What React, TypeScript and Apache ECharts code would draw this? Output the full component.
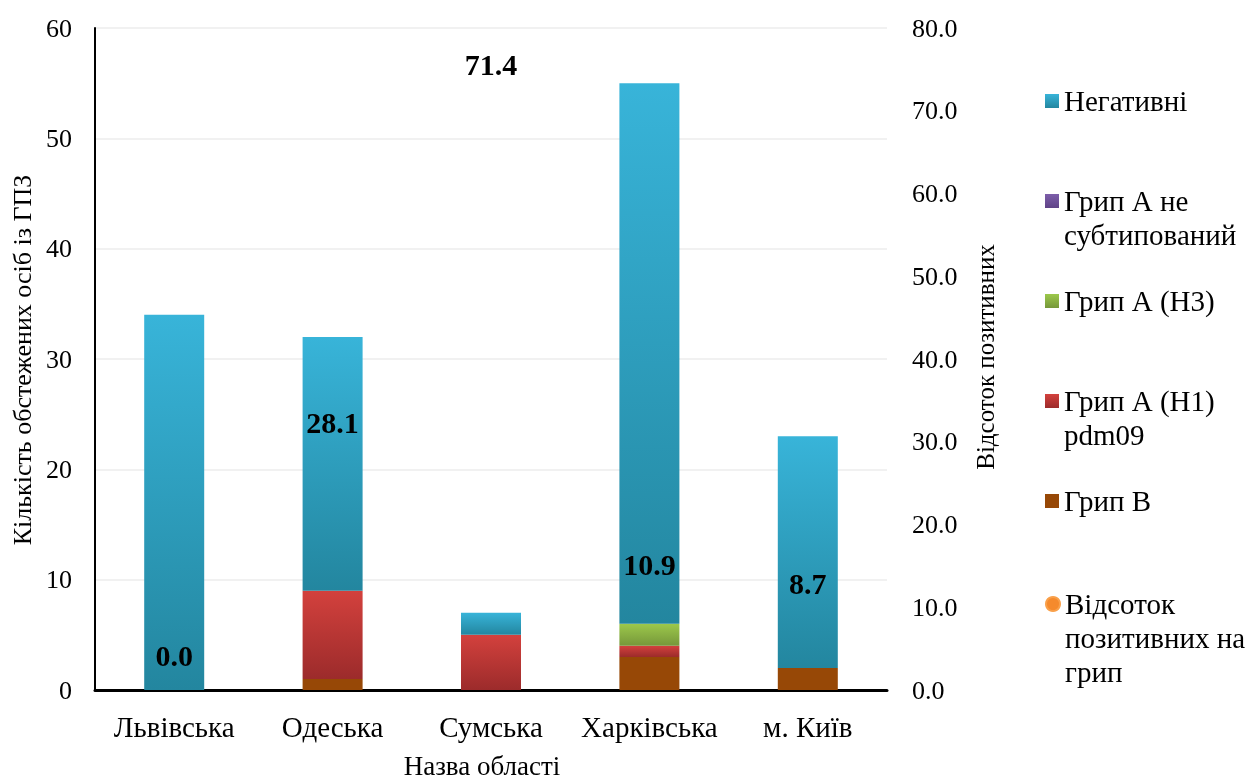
import React, { useEffect, useRef } from "react";
import * as echarts from "echarts";

const categories = ["Львівська", "Одеська", "Сумська", "Харківська", "м. Київ"];
const fluB = [0, 1, 0, 3, 2];
const fluAH1 = [0, 8, 5, 1, 0];
const fluAH3 = [0, 0, 0, 2, 0];
const fluANotSub = [0, 0, 0, 0, 0];
const negative = [34, 23, 2, 49, 21];
const positivePct = [0.0, 28.1, 71.4, 10.9, 8.7];

const leftTicks = { min: 0, max: 60, interval: 10 };
const rightTicks = { min: 0, max: 80, interval: 10 };

const FONT = "'Liberation Serif', 'Times New Roman', serif";

function grad(top: string, bottom: string) {
  return new echarts.graphic.LinearGradient(0, 0, 0, 1, [
    { offset: 0, color: top },
    { offset: 1, color: bottom },
  ]);
}

const legendText: Record<string, string> = {
  "Негативні": "Негативні",
  "Грип А не субтипований": "\nГрип А не\nсубтипований",
  "Грип А (H3)": "Грип А (H3)",
  "Грип А (H1) pdm09": "\nГрип А (H1)\npdm09",
  "Грип В": "Грип В",
  "Відсоток позитивних на грип": "\n\nВідсоток\nпозитивних на\nгрип",
};

export default function App() {
  const ref = useRef<HTMLDivElement>(null);
  useEffect(() => {
    if (!ref.current) return;
    const chart = echarts.init(ref.current, null, { renderer: "svg" });
    const lh = 34;
    const legendFont = 29;
    const mkLegend = (name: string, iconY: number, lines: number, icon: string, extra: any = {}) => ({
      orient: "vertical",
      left: 1040,
      top: iconY - 4 - ((2 * lines - 1) * lh) / 2,
      itemWidth: 14,
      itemHeight: 14,
      icon,
      selectedMode: false,
      data: [{ name, icon, ...extra }],
      formatter: (n: string) => legendText[n] || n,
      textStyle: {
        fontFamily: FONT,
        fontSize: legendFont,
        color: "#000",
        lineHeight: lh,
      },
    });
    const barCommon = {
      type: "bar",
      stack: "total",
      barWidth: 60,
      yAxisIndex: 0,
    };
    const titleStyle = (text: string, size: number) => ({
      text,
      fontFamily: FONT,
      fontSize: size,
      fill: "#000",
      align: "center",
      verticalAlign: "middle",
    });
    chart.setOption({
      animation: false,
      textStyle: { fontFamily: FONT },
      grid: { left: 95, right: 361, top: 28, bottom: 91, containLabel: false },
      legend: [
        mkLegend("Негативні", 100, 1, "rect"),
        mkLegend("Грип А не субтипований", 200, 2, "rect"),
        mkLegend("Грип А (H3)", 300, 1, "rect"),
        mkLegend("Грип А (H1) pdm09", 400, 2, "rect"),
        mkLegend("Грип В", 500, 1, "rect"),
        mkLegend("Відсоток позитивних на грип", 603, 3, "circle", {
          itemStyle: { color: "#f58a2c", opacity: 1, borderColor: "#f9a04a", borderWidth: 2 },
        }),
      ],
      xAxis: {
        type: "category",
        data: categories,
        axisLine: { show: true, lineStyle: { color: "#000", width: 3 } },
        axisTick: { show: false },
        axisLabel: { fontFamily: FONT, fontSize: 29, color: "#000", margin: 22, interval: 0 },
      },
      yAxis: [
        {
          type: "value",
          ...leftTicks,
          axisLine: { show: true, lineStyle: { color: "#000", width: 2 } },
          axisTick: { show: false },
          axisLabel: { fontFamily: FONT, fontSize: 26, color: "#000", margin: 23 },
          splitLine: { show: true, lineStyle: { color: "#ececec", width: 1.5 } },
        },
        {
          type: "value",
          ...rightTicks,
          position: "right",
          axisLine: { show: false },
          axisTick: { show: false },
          axisLabel: {
            fontFamily: FONT,
            fontSize: 26,
            color: "#000",
            margin: 25,
            formatter: (v: number) => v.toFixed(1),
          },
          splitLine: { show: false },
        },
      ],
      graphic: [
        {
          type: "text",
          x: 22,
          y: 360,
          rotation: Math.PI / 2,
          style: titleStyle("Кількість обстежених осіб із ГПЗ", 26),
        },
        {
          type: "text",
          x: 985,
          y: 357,
          rotation: Math.PI / 2,
          style: titleStyle("Відсоток позитивних", 25),
        },
        {
          type: "text",
          x: 482,
          y: 766,
          style: titleStyle("Назва області", 27),
        },
      ],
      series: [
        { ...barCommon, name: "Грип В", data: fluB, itemStyle: { color: "#974806" } },
        { ...barCommon, name: "Грип А (H1) pdm09", data: fluAH1, itemStyle: { color: grad("#d3413d", "#9c2b2b") } },
        { ...barCommon, name: "Грип А (H3)", data: fluAH3, itemStyle: { color: grad("#9cc84b", "#76973a") } },
        { ...barCommon, name: "Грип А не субтипований", data: fluANotSub, itemStyle: { color: grad("#7d5eaa", "#5f4387") } },
        { ...barCommon, name: "Негативні", data: negative, itemStyle: { color: grad("#38b4d9", "#23869f") } },
        {
          type: "line",
          name: "Відсоток позитивних на грип",
          yAxisIndex: 1,
          data: positivePct,
          symbol: "circle",
          symbolSize: 8,
          itemStyle: { color: "rgba(0,0,0,0)", borderWidth: 0 },
          lineStyle: { color: "rgba(0,0,0,0)", width: 0 },
          z: 10,
          label: {
            show: true,
            position: "top",
            distance: 16,
            fontFamily: FONT,
            fontSize: 30,
            fontWeight: "bold",
            color: "#000",
            formatter: (p: any) => Number(p.value).toFixed(1),
          },
        },
      ],
    });
    return () => chart.dispose();
  }, []);
  return (
    <div
      ref={ref}
      style={{ position: "fixed", left: 0, top: 0, width: 1248, height: 781 }}
    />
  );
}
